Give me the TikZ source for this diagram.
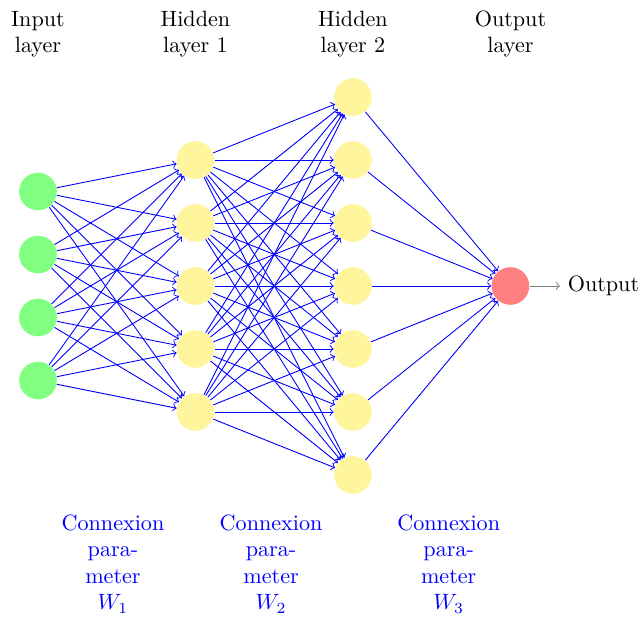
\documentclass[tikz,border=0pt]{standalone}
\usepackage{amsmath}
\usetikzlibrary{positioning}
\definecolor{paleyellow}{RGB}{255,245,157}
\tikzset{
    %Define styles for the neurons
    neuron/.style={
             circle,
             minimum size=17pt, inner sep=0pt},
    inputneuron/.style={neuron, fill=green!50},
    hiddenneuron/.style={neuron, fill=paleyellow},
    outputneuron/.style={neuron, fill=red!50},
    %Define style for layer titles and weight labels
    annot/.style={
             align=center},
    weightlabel/.style={
             align=center,
             text=blue},
    % Define arrow style
    netarrow/.style={
            ->,
            blue},
    outarrow/.style={
            ->,
            gray}
}

\begin{document}
\begin{tikzpicture}[node distance=0.48cm, auto,]
 \useasboundingbox (-0.603,-5.317) rectangle (9.572,4.540);
 % input layer
 \foreach \y in {1,...,4}
     \node[inputneuron] (I-\y) at (0,2.5-\y) {};
 % hidden layer 1
 \foreach \y in {1,...,5}
     \node[hiddenneuron] (H-\y) at (2.5,3-\y) {};
 % hidden layer 2
 \foreach \y in {1,...,7}
     \node[hiddenneuron] (K-\y) at (5,4-\y) {};
 % output layer
 \node[outputneuron] (O) at (7.5,0) {};
 \node[right=of O] (out) {Output};
 % connections
 \foreach \s in {1,...,4}
     \foreach \d in {1,...,5}
         \draw[netarrow] (I-\s) -- (H-\d);
 \foreach \s in {1,...,5}
     \foreach \d in {1,...,7}
         \draw[netarrow] (H-\s) -- (K-\d);
 \foreach \s in {1,...,7}
     \draw[netarrow] (K-\s) -- (O);
 \draw[outarrow] (O) -- (out);
 % layer titles
 \node[annot, above=0.2cm of K-1] (hl2) {Hidden\\layer 2};
 \node[annot] (hl1) at (H-1 |- hl2) {Hidden\\layer 1};
 \node[annot] (il) at (I-1 |- hl2) {Input\\layer};
 \node[annot] (ol) at (O |- hl2) {Output\\layer};
 % weight labels
 \node[weightlabel] (w1) at (1.19,-4.41) {Connexion\\para-\\meter\\$W_1$};
 \node[weightlabel] (w2) at (3.70,-4.41) {Connexion\\para-\\meter\\$W_2$};
 \node[weightlabel] (w3) at (6.52,-4.41) {Connexion\\para-\\meter\\$W_3$};
\end{tikzpicture}
\end{document}
